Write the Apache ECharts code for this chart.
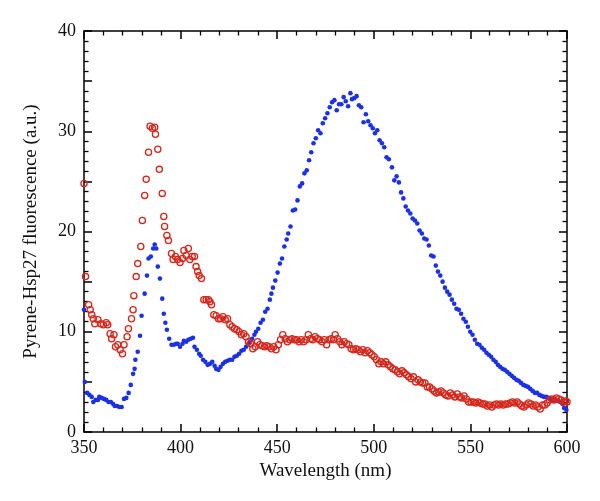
<!DOCTYPE html>
<html>
<head>
<meta charset="utf-8">
<script src="https://cdn.jsdelivr.net/npm/echarts@6/dist/echarts.min.js"></script>
<style>html,body{margin:0;padding:0;background:#fff}#c{width:600px;height:501px}</style>
</head>
<body>
<div id="c"></div>
<script>
const xLabel = 'Wavelength (nm)';
const yLabel = 'Pyrene-Hsp27 fluorescence (a.u.)';
const xTicks = [350, 400, 450, 500, 550, 600];
const yTicks = [0, 10, 20, 30, 40];

const blueX = [350,350.4,351.6,352.8,354,354.8,356,357.2,357.9,359.1,360.3,361.5,362.7,363.9,365.1,365.9,367.1,368.3,369.5,370.7,371.9,373.1,374.2,375.4,376.2,376.6,377.8,379,379.8,381.4,382.6,383.4,384.6,385.8,386.6,387.4,388.2,389.3,390.5,391.3,392.1,392.9,394.1,395.3,396.5,397.7,398.5,399.7,401,401.7,402.9,404,405.2,406.4,407.2,408.4,409.6,410.4,411.6,412.8,414,415.2,416.4,417.6,418.4,419.6,420.7,421.9,423.1,424.3,425.5,426.7,427.9,429.1,430.3,431.5,432.7,433.9,435.1,435.9,437,438.2,439,440.2,441.4,442.6,443.8,445,446.2,447,447.8,449,450.2,451.4,452.5,453.7,454.9,455.7,456.9,458.1,459.3,460.5,461.7,462.9,464.1,465.3,466.5,467.6,468.8,470,471.2,472.4,473.6,474.8,476,477.2,478.4,479.6,480.8,482,483.2,484.4,485.5,486.7,487.9,488.7,489.9,491.1,492.3,493.5,494.7,495.9,497.1,498.3,499.5,500.6,501.8,503,504.2,505.4,506.6,507.8,509.4,510.6,511.8,513,514.1,515.3,516.5,517.7,518.9,520.1,521.3,522.5,523.7,524.9,526.1,527.3,528.5,529.7,530.9,532.1,533.2,534.4,535.6,536.8,538,539.2,540.4,541.6,542.8,544,545.2,546.4,547.6,548.7,549.9,551.1,552.3,553.5,554.7,555.9,557.1,558.3,559.5,560.7,561.9,563.1,564.2,565.4,566.6,567.8,569,570.2,571.4,572.6,573.8,575,576.2,577.4,578.6,579.8,581,582.2,583.4,584.5,585.7,586.9,588.1,589.3,590.5,591.7,592.9,594.1,595.3,596.5,597.7,598.5,599.7];
const blueY = [12.2,5.0,3.9,3.7,3.5,3.0,3.2,3.2,3.5,3.4,3.3,3.2,3.0,3.0,2.8,2.6,2.6,2.5,2.5,3.3,3.4,3.9,4.7,5.8,6.3,7.2,8.0,9.6,11.6,13.8,15.6,17.3,17.5,18.3,18.7,18.3,16.5,15.3,13.3,11.8,10.9,10.2,9.3,8.7,8.7,8.8,8.8,8.5,8.8,9.1,9.0,9.2,9.3,9.4,8.5,8.2,7.8,7.6,7.2,7.0,6.7,6.8,7.0,6.6,6.3,6.2,6.5,6.8,7.0,7.1,7.2,7.2,7.5,7.6,7.8,8.1,8.2,8.5,8.8,9.0,9.3,9.7,10.0,10.3,10.9,11.2,12.0,12.3,13.2,13.8,14.4,15.1,15.9,16.8,17.3,18.5,19.2,19.8,20.5,22.1,22.2,23.1,24.5,24.8,25.8,26.1,27.1,27.9,28.8,29.3,30.1,29.8,30.8,31.3,31.8,32.4,32.9,33.1,32.1,32.7,32.7,33.4,33.0,32.5,33.8,33.2,33.3,33.5,32.6,32.4,30.9,31.7,31.0,30.6,30.3,29.8,30.1,29.1,28.8,28.4,27.4,27.2,26.4,25.1,25.5,24.9,23.9,23.3,22.5,22.1,21.8,21.3,21.1,20.8,20.1,19.8,19.3,19.2,18.6,17.6,17.5,16.6,16.0,15.6,15.0,14.4,14.0,13.7,13.2,12.8,12.3,12.2,11.8,11.3,11.0,10.5,10.0,9.7,9.2,8.8,8.7,8.4,8.2,7.9,7.7,7.5,7.2,7.0,6.7,6.5,6.3,6.2,6.0,5.8,5.6,5.4,5.2,5.1,4.9,4.7,4.6,4.5,4.3,4.1,3.9,3.9,3.7,3.6,3.5,3.5,3.4,3.3,3.2,3.2,3.1,3.0,2.8,2.4,2.2];

const redX = [350,350.8,352.4,353.2,354,354.8,355.6,357.2,358.7,360,361.5,362.3,363.5,364.3,365.5,366.3,367.5,368.7,369.9,370.7,372.3,373,374.6,375.4,375.8,377,377.8,379.4,380.2,381.4,382.2,383.4,384.2,385.4,386.6,387,388.2,389,390.5,391.3,391.7,392.9,393.7,395.3,396.1,397.3,398.5,399.7,401,401.7,402.9,404,404.8,406,407.2,408,408.8,409.6,410.8,412,413.2,414.4,415.2,416,417.2,418.4,419.6,420.7,421.9,423.1,424.3,425.5,426.7,427.9,429.1,430.3,431.5,432.7,433.9,435.1,436.2,437.4,438.6,439.8,441,442.2,443.4,444.6,445.8,447,448.2,449.4,450.6,451.7,452.9,454.1,455.3,456.5,457.7,458.9,460.1,461.3,462.5,463.7,464.9,466.1,467.3,468.4,469.6,470.8,472,473.2,474.4,475.6,476.8,478,479.2,480,481.2,482.4,483.5,484.7,485.9,487.1,488.3,489.5,490.7,491.9,493.1,494.3,495.5,496.7,497.9,499,500.2,501.4,502.6,503.8,505,506.2,507.4,508.6,509.8,511,512.2,513.4,514.6,515.7,516.9,518.1,519.3,520.5,521.7,522.9,524.1,525.3,526.5,527.7,528.9,530.1,531.2,532.4,533.6,534.8,536,537.2,538.4,539.6,540.8,542,543.2,544.4,545.5,546.7,547.9,549.1,550.3,551.5,552.7,553.9,555.1,556.3,557.5,558.7,559.9,561.1,562.3,563.5,564.6,565.8,567,568.2,569.4,570.6,571.8,573,574.2,575.4,576.6,577.7,578.9,580.1,581.3,582.5,583.7,584.9,586.1,587.3,588.5,589.7,590.9,592.1,593.3,594.5,595.7,596.9,598.1,599.3,600];
const redY = [24.8,15.5,12.7,12.2,11.7,11.3,10.8,11.2,10.8,10.7,10.9,10.7,9.8,9.3,9.7,8.5,8.7,8.2,7.8,8.7,9.5,10.3,11.3,12.2,13.6,15.5,16.8,18.5,21.1,23.6,25.2,27.9,30.5,30.3,30.4,29.7,28.2,26.2,23.8,21.5,20.5,19.6,19.1,17.8,17.2,17.5,17.2,16.9,17.3,18.1,17.6,18.3,17.2,17.5,17.5,16.5,16.0,15.6,15.3,13.2,13.2,13.2,13.0,12.7,11.7,11.6,11.3,11.3,11.5,11.2,11.3,10.7,10.5,10.3,10.2,10.0,9.7,9.8,9.5,9.0,8.8,8.3,8.5,9.0,8.7,8.6,8.5,8.6,8.5,8.3,8.5,8.2,8.7,9.2,9.7,9.3,9.0,9.2,9.3,9.2,9.2,9.0,9.2,9.0,9.2,9.7,9.3,9.2,9.5,9.3,9.2,9.0,9.2,8.7,9.2,9.3,9.2,9.7,9.3,9.0,8.7,9.0,8.8,8.7,8.3,8.2,8.3,8.2,8.0,8.2,7.9,8.1,7.9,7.7,7.5,7.2,6.8,7.0,6.8,7.0,6.7,6.5,6.3,6.2,6.0,5.8,6.1,5.9,5.7,5.5,5.3,5.5,5.0,5.2,5.0,4.9,4.9,4.5,4.5,4.3,4.1,3.9,4.0,4.1,3.9,3.7,3.6,3.9,3.7,3.5,3.8,3.5,3.4,3.6,3.3,3.0,3.0,3.0,2.9,3.0,2.9,2.8,2.8,2.6,2.7,2.5,2.7,2.8,2.7,2.8,2.7,2.8,2.8,2.9,3.0,2.9,3.0,2.8,2.6,2.5,2.7,2.9,2.8,2.6,2.7,2.5,2.3,2.7,2.7,2.9,3.2,3.3,3.2,3.4,3.3,3.2,3.0,3.1,3.0];

const FONT = '"Liberation Serif", "DejaVu Serif", serif';
const axisLineStyle = { color: '#000', width: 1.5 };

function pairs(xs, ys) { return xs.map((x, i) => [x, ys[i]]); }

function xAxisCfg(pos, show) {
  return {
    type: 'value', position: pos, min: 350, max: 600, interval: 50,
    name: show ? xLabel : '', nameLocation: 'middle', nameGap: 28,
    nameTextStyle: { fontFamily: FONT, fontSize: 19, color: '#111' },
    axisLine: { show: true, onZero: false, lineStyle: axisLineStyle },
    axisTick: { show: true, inside: true, length: 8, lineStyle: { color: '#000', width: 1.5 } },
    minorTick: { show: true, splitNumber: 5, length: 4.5, lineStyle: { color: '#000', width: 1.3 } },
    axisLabel: { show: show, fontFamily: FONT, fontSize: 18, color: '#111', margin: 7 },
    splitLine: { show: false }, minorSplitLine: { show: false }
  };
}
function yAxisCfg(pos, show) {
  return {
    type: 'value', position: pos, min: 0, max: 40, interval: 5,
    name: show ? yLabel : '', nameLocation: 'middle', nameGap: 43,
    nameTextStyle: { fontFamily: FONT, fontSize: 19, color: '#111' },
    axisLine: { show: true, onZero: false, lineStyle: axisLineStyle },
    axisTick: { show: true, inside: true, length: 8, lineStyle: { color: '#000', width: 1.5 } },
    minorTick: { show: true, splitNumber: 5, length: 4.5, lineStyle: { color: '#000', width: 1.3 } },
    axisLabel: { show: show, fontFamily: FONT, fontSize: 18, color: '#111', margin: 8,
      formatter: v => (yTicks.indexOf(v) >= 0 ? String(v) : '') },
    splitLine: { show: false }, minorSplitLine: { show: false }
  };
}

const chart = echarts.init(document.getElementById('c'), null, { renderer: 'canvas' });
chart.setOption({
  animation: false,
  backgroundColor: '#fff',
  grid: { left: 84, right: 33, top: 31, bottom: 69, containLabel: false },
  xAxis: [xAxisCfg('bottom', true), xAxisCfg('top', false)],
  yAxis: [yAxisCfg('left', true), yAxisCfg('right', false)],
  series: [
    { name: 'blue', type: 'scatter', xAxisIndex: 0, yAxisIndex: 0, data: pairs(blueX, blueY),
      symbol: 'circle', symbolSize: 4.6, itemStyle: { color: '#1c30e4', opacity: 1 } },
    { name: 'red', type: 'scatter', xAxisIndex: 0, yAxisIndex: 0, data: pairs(redX, redY),
      symbol: 'circle', symbolSize: 6.2,
      itemStyle: { color: 'rgba(255,255,255,0)', borderColor: '#d5281d', borderWidth: 1.3, opacity: 1 } }
  ]
});
</script>
</body>
</html>
